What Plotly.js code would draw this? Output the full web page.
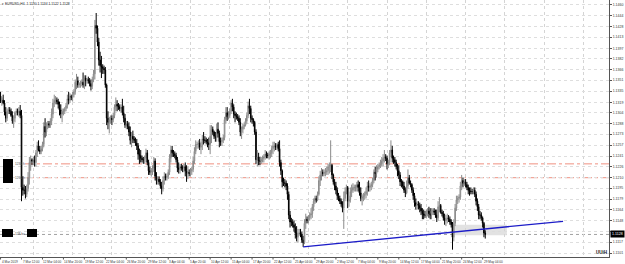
<!DOCTYPE html>
<html>
<head>
<meta charset="utf-8">
<script src="https://cdn.plot.ly/plotly-3.0.1.min.js"></script>
<style>html,body{margin:0;padding:0;background:#fff;overflow:hidden}#chart{width:625px;height:264px}</style>
</head>
<body>
<div id="chart"></div>
<script>
// EURUSD H4 candles, bar index 5 = 4 Mar 2019 20:00 (6 bars per trading day)
const symbolName = "EURUSD,H4";
const firstBar = 5;
const firstOpen = 1.1328;
const high = [
1.1334,
1.1326,1.1330,1.1322,1.1312,1.1310,1.1312,
1.1312,1.1310,1.1306,1.1300,1.1306,1.1310,
1.1310,1.1312,1.1315,1.1308,1.1212,1.1200,
1.1198,1.1200,1.1218,1.1240,1.1242,1.1238,
1.1240,1.1242,1.1250,1.1262,1.1264,1.1256,
1.1256,1.1262,1.1290,1.1296,1.1290,1.1292,
1.1292,1.1296,1.1310,1.1324,1.1330,1.1328,
1.1326,1.1324,1.1320,1.1316,1.1310,1.1310,
1.1312,1.1318,1.1330,1.1334,1.1332,1.1330,
1.1334,1.1338,1.1352,1.1360,1.1356,1.1348,
1.1350,1.1352,1.1362,1.1358,1.1358,1.1354,
1.1356,1.1354,1.1352,1.1356,1.1366,1.1438,
1.1448,1.1430,1.1412,1.1392,1.1386,1.1374,
1.1372,1.1370,1.1346,1.1306,1.1298,1.1300,
1.1300,1.1304,1.1316,1.1326,1.1322,1.1318,
1.1316,1.1316,1.1324,1.1314,1.1302,1.1292,
1.1292,1.1290,1.1284,1.1276,1.1278,1.1270,
1.1268,1.1266,1.1260,1.1252,1.1250,1.1242,
1.1240,1.1242,1.1252,1.1250,1.1236,1.1226,
1.1224,1.1228,1.1240,1.1238,1.1218,1.1212,
1.1212,1.1208,1.1204,1.1212,1.1218,1.1216,
1.1216,1.1222,1.1244,1.1256,1.1256,1.1250,
1.1248,1.1246,1.1240,1.1232,1.1230,1.1230,
1.1228,1.1230,1.1232,1.1228,1.1226,1.1222,
1.1224,1.1226,1.1240,1.1254,1.1264,1.1262,
1.1264,1.1266,1.1262,1.1272,1.1276,1.1270,
1.1268,1.1266,1.1268,1.1286,1.1286,1.1284,
1.1278,1.1276,1.1288,1.1290,1.1278,1.1268,
1.1268,1.1272,1.1298,1.1312,1.1312,1.1306,
1.1310,1.1322,1.1324,1.1316,1.1306,1.1304,
1.1302,1.1300,1.1296,1.1284,1.1288,1.1290,
1.1296,1.1304,1.1320,1.1324,1.1314,1.1300,
1.1296,1.1292,1.1280,1.1250,1.1246,1.1240,
1.1240,1.1242,1.1244,1.1250,1.1248,1.1246,
1.1248,1.1250,1.1256,1.1262,1.1262,1.1260,
1.1260,1.1262,1.1264,1.1236,1.1222,1.1210,
1.1208,1.1206,1.1202,1.1190,1.1162,1.1152,
1.1150,1.1148,1.1144,1.1140,1.1136,1.1136,
1.1136,1.1132,1.1126,1.1150,1.1158,1.1154,
1.1156,1.1160,1.1166,1.1172,1.1180,1.1184,
1.1184,1.1190,1.1212,1.1220,1.1224,1.1222,
1.1222,1.1224,1.1226,1.1230,1.1232,1.1264,
1.1230,1.1216,1.1208,1.1204,1.1196,1.1188,
1.1184,1.1180,1.1176,1.1190,1.1196,1.1200,
1.1198,1.1184,1.1196,1.1200,1.1202,1.1200,
1.1200,1.1204,1.1206,1.1204,1.1196,1.1186,
1.1188,1.1190,1.1196,1.1204,1.1206,1.1202,
1.1204,1.1210,1.1222,1.1226,1.1228,1.1230,
1.1232,1.1236,1.1240,1.1244,1.1250,1.1244,
1.1242,1.1236,1.1250,1.1264,1.1256,1.1242,
1.1240,1.1236,1.1230,1.1228,1.1218,1.1208,
1.1206,1.1204,1.1196,1.1206,1.1222,1.1214,
1.1206,1.1202,1.1196,1.1188,1.1180,1.1176,
1.1176,1.1174,1.1172,1.1166,1.1164,1.1162,
1.1164,1.1166,1.1168,1.1166,1.1166,1.1166,
1.1166,1.1164,1.1164,1.1176,1.1182,1.1172,
1.1164,1.1162,1.1158,1.1156,1.1158,1.1156,
1.1154,1.1150,1.1146,1.1150,1.1172,1.1184,
1.1184,1.1186,1.1204,1.1214,1.1210,1.1208,
1.1208,1.1204,1.1200,1.1196,1.1196,1.1194,
1.1196,1.1196,1.1190,1.1180,1.1172,1.1162,
1.1160,1.1154,1.1146,1.1134
];
const low = [
1.1318,
1.1314,1.1316,1.1300,1.1290,1.1292,1.1302,
1.1302,1.1298,1.1288,1.1282,1.1290,1.1300,
1.1300,1.1298,1.1296,1.1176,1.1184,1.1186,
1.1180,1.1182,1.1190,1.1200,1.1220,1.1228,
1.1228,1.1226,1.1226,1.1240,1.1248,1.1244,
1.1244,1.1248,1.1254,1.1268,1.1270,1.1280,
1.1282,1.1282,1.1286,1.1296,1.1312,1.1316,
1.1316,1.1310,1.1300,1.1296,1.1290,1.1300,
1.1302,1.1306,1.1310,1.1316,1.1318,1.1322,
1.1320,1.1326,1.1330,1.1338,1.1340,1.1340,
1.1340,1.1342,1.1340,1.1338,1.1342,1.1346,
1.1346,1.1342,1.1336,1.1338,1.1348,1.1352,
1.1418,1.1400,1.1372,1.1362,1.1354,1.1360,
1.1360,1.1340,1.1286,1.1280,1.1274,1.1288,
1.1286,1.1290,1.1296,1.1306,1.1306,1.1308,
1.1306,1.1304,1.1300,1.1290,1.1282,1.1280,
1.1280,1.1270,1.1258,1.1254,1.1260,1.1260,
1.1256,1.1250,1.1236,1.1230,1.1232,1.1232,
1.1230,1.1230,1.1232,1.1228,1.1214,1.1214,
1.1212,1.1214,1.1218,1.1206,1.1200,1.1200,
1.1200,1.1194,1.1186,1.1190,1.1200,1.1206,
1.1206,1.1208,1.1214,1.1232,1.1240,1.1240,
1.1238,1.1232,1.1218,1.1216,1.1216,1.1220,
1.1218,1.1218,1.1212,1.1204,1.1208,1.1212,
1.1212,1.1214,1.1218,1.1230,1.1244,1.1252,
1.1252,1.1250,1.1244,1.1250,1.1258,1.1260,
1.1258,1.1254,1.1250,1.1244,1.1260,1.1272,
1.1266,1.1262,1.1262,1.1268,1.1254,1.1256,
1.1256,1.1260,1.1264,1.1288,1.1292,1.1294,
1.1296,1.1302,1.1306,1.1296,1.1290,1.1294,
1.1292,1.1286,1.1270,1.1266,1.1274,1.1280,
1.1284,1.1288,1.1296,1.1302,1.1290,1.1288,
1.1284,1.1272,1.1230,1.1226,1.1228,1.1228,
1.1230,1.1232,1.1232,1.1236,1.1238,1.1238,
1.1236,1.1238,1.1240,1.1244,1.1248,1.1250,
1.1250,1.1248,1.1226,1.1214,1.1196,1.1198,
1.1196,1.1192,1.1178,1.1150,1.1138,1.1140,
1.1138,1.1132,1.1122,1.1118,1.1116,1.1126,
1.1124,1.1116,1.1110,1.1114,1.1136,1.1144,
1.1144,1.1148,1.1150,1.1152,1.1162,1.1172,
1.1174,1.1176,1.1184,1.1198,1.1206,1.1212,
1.1212,1.1212,1.1214,1.1214,1.1216,1.1218,
1.1208,1.1200,1.1192,1.1186,1.1178,1.1176,
1.1172,1.1168,1.1160,1.1136,1.1176,1.1186,
1.1166,1.1168,1.1174,1.1182,1.1188,1.1190,
1.1190,1.1190,1.1190,1.1184,1.1176,1.1170,
1.1176,1.1178,1.1180,1.1184,1.1190,1.1190,
1.1192,1.1196,1.1202,1.1206,1.1210,1.1218,
1.1222,1.1224,1.1226,1.1226,1.1232,1.1234,
1.1222,1.1224,1.1228,1.1240,1.1232,1.1230,
1.1226,1.1222,1.1212,1.1208,1.1198,1.1196,
1.1194,1.1188,1.1182,1.1186,1.1194,1.1200,
1.1196,1.1188,1.1178,1.1168,1.1164,1.1164,
1.1164,1.1160,1.1156,1.1150,1.1150,1.1152,
1.1152,1.1154,1.1152,1.1150,1.1150,1.1156,
1.1156,1.1152,1.1146,1.1148,1.1160,1.1158,
1.1154,1.1148,1.1142,1.1140,1.1144,1.1146,
1.1142,1.1138,1.1106,1.1118,1.1140,1.1162,
1.1172,1.1174,1.1178,1.1192,1.1196,1.1198,
1.1196,1.1192,1.1186,1.1184,1.1186,1.1186,
1.1186,1.1182,1.1170,1.1162,1.1150,1.1150,
1.1148,1.1138,1.1124,1.1122
];
const close = [
1.1320,
1.1322,1.1318,1.1305,1.1296,1.1306,1.1308,
1.1306,1.1300,1.1292,1.1296,1.1304,1.1306,
1.1304,1.1306,1.1300,1.1196,1.1192,1.1192,
1.1186,1.1194,1.1210,1.1232,1.1236,1.1234,
1.1236,1.1232,1.1246,1.1256,1.1250,1.1248,
1.1252,1.1258,1.1284,1.1276,1.1286,1.1288,
1.1286,1.1292,1.1302,1.1318,1.1322,1.1322,
1.1320,1.1316,1.1308,1.1302,1.1306,1.1306,
1.1310,1.1314,1.1324,1.1322,1.1328,1.1326,
1.1330,1.1334,1.1348,1.1350,1.1344,1.1346,
1.1346,1.1348,1.1344,1.1354,1.1350,1.1352,
1.1350,1.1346,1.1342,1.1352,1.1360,1.1430,
1.1426,1.1406,1.1380,1.1372,1.1370,1.1368,
1.1366,1.1344,1.1296,1.1290,1.1294,1.1296,
1.1294,1.1300,1.1312,1.1316,1.1314,1.1312,
1.1310,1.1312,1.1304,1.1296,1.1286,1.1288,
1.1284,1.1276,1.1264,1.1270,1.1266,1.1264,
1.1260,1.1256,1.1244,1.1242,1.1238,1.1236,
1.1236,1.1238,1.1246,1.1232,1.1220,1.1218,
1.1220,1.1224,1.1234,1.1212,1.1206,1.1208,
1.1204,1.1198,1.1194,1.1206,1.1212,1.1210,
1.1212,1.1218,1.1238,1.1250,1.1246,1.1244,
1.1242,1.1236,1.1224,1.1222,1.1226,1.1224,
1.1224,1.1226,1.1220,1.1216,1.1218,1.1216,
1.1220,1.1222,1.1234,1.1248,1.1258,1.1258,
1.1260,1.1254,1.1256,1.1266,1.1264,1.1264,
1.1262,1.1260,1.1258,1.1270,1.1280,1.1276,
1.1270,1.1268,1.1280,1.1274,1.1262,1.1262,
1.1264,1.1268,1.1294,1.1304,1.1298,1.1300,
1.1306,1.1318,1.1312,1.1302,1.1300,1.1298,
1.1296,1.1290,1.1276,1.1280,1.1284,1.1286,
1.1292,1.1300,1.1314,1.1310,1.1296,1.1294,
1.1290,1.1276,1.1236,1.1240,1.1234,1.1234,
1.1236,1.1238,1.1240,1.1244,1.1242,1.1242,
1.1244,1.1246,1.1252,1.1256,1.1256,1.1254,
1.1258,1.1252,1.1232,1.1220,1.1204,1.1202,
1.1202,1.1198,1.1186,1.1156,1.1146,1.1146,
1.1142,1.1138,1.1130,1.1124,1.1130,1.1130,
1.1128,1.1120,1.1116,1.1144,1.1150,1.1148,
1.1152,1.1156,1.1158,1.1168,1.1176,1.1180,
1.1178,1.1186,1.1206,1.1214,1.1218,1.1216,
1.1218,1.1218,1.1220,1.1226,1.1228,1.1228,
1.1214,1.1204,1.1198,1.1192,1.1184,1.1180,
1.1176,1.1172,1.1166,1.1180,1.1190,1.1196,
1.1176,1.1178,1.1190,1.1192,1.1196,1.1196,
1.1196,1.1200,1.1196,1.1188,1.1180,1.1182,
1.1184,1.1186,1.1190,1.1198,1.1196,1.1198,
1.1200,1.1206,1.1218,1.1216,1.1222,1.1226,
1.1228,1.1230,1.1234,1.1238,1.1240,1.1238,
1.1230,1.1232,1.1246,1.1250,1.1238,1.1236,
1.1232,1.1226,1.1220,1.1214,1.1204,1.1204,
1.1198,1.1192,1.1188,1.1198,1.1210,1.1202,
1.1200,1.1192,1.1184,1.1174,1.1170,1.1172,
1.1170,1.1166,1.1162,1.1158,1.1156,1.1156,
1.1160,1.1162,1.1158,1.1156,1.1162,1.1162,
1.1160,1.1156,1.1152,1.1168,1.1170,1.1160,
1.1158,1.1152,1.1148,1.1150,1.1152,1.1150,
1.1146,1.1142,1.1124,1.1144,1.1166,1.1178,
1.1180,1.1182,1.1198,1.1206,1.1202,1.1204,
1.1200,1.1196,1.1192,1.1190,1.1190,1.1190,
1.1192,1.1186,1.1176,1.1168,1.1156,1.1156,
1.1152,1.1144,1.1130,1.1128
];

// time-axis labels (bar index where each label sits)
const dateBars = [5,21,37,53,69,85,101,117,133,149,165,181,197,213,229,245,261,277,293,309,325,341,357,373];
const dateLabels = ["4 Mar 2019","7 Mar 12:00","12 Mar 04:00","14 Mar 20:00","19 Mar 12:00","22 Mar 04:00","26 Mar 20:00","29 Mar 12:00","3 Apr 04:00","5 Apr 20:00","10 Apr 12:00","15 Apr 04:00","17 Apr 20:00","22 Apr 12:00","25 Apr 04:00","29 Apr 20:00","2 May 12:00","7 May 04:00","9 May 20:00","14 May 12:00","17 May 04:00","21 May 20:00","24 May 12:00","29 May 04:00"];
const mondayBars = [30,60,90,120,150,180,210,240,270,300,330,360,390,420,450];
// price-axis labels
const priceTicks = [1.1460,1.1444,1.1428,1.1413,1.1397,1.1382,1.1366,1.1351,1.1335,1.1319,1.1304,1.1288,1.1273,1.1257,1.1241,1.1226,1.1210,1.1195,1.1179,1.1164,1.1148,1.1132,1.1117,1.1101];
// drawn objects
const levelPrices = [1.1230, 1.1210];
const levelTags = ["1230 h", "1210 h"];
const trendBars = [236, 434.4];
const trendPrices = [1.1110, 1.1147];
const boxBars = [350.5, 391.5];
const boxPrices = [1.1127, 1.1142];

const n = close.length;
const bars = close.map((_, k) => firstBar + k);
const open = close.map((_, k) => k === 0 ? firstOpen : close[k - 1]);
const last = n - 1;
const lastClose = close[last];

const FONT = "Liberation Sans, Arial, sans-serif";
const W = 609, H = 257; // plot area px
const yRange = [1.10954, 1.14668];
const pxPerPrice = H / (yRange[1] - yRange[0]);

const traces = [
  {
    type: "candlestick", x: bars, open: open, high: high, low: low, close: close,
    increasing: {line: {color: "#8a8a8a", width: 1}, fillcolor: "#ffffff"},
    decreasing: {line: {color: "#000000", width: 1}, fillcolor: "#000000"},
    whiskerwidth: 0, hoverinfo: "skip", showlegend: false
  },
  {
    type: "scatter", mode: "lines", x: trendBars, y: trendPrices,
    line: {color: "#1c1cc8", width: 1.3}, hoverinfo: "skip", showlegend: false
  }
];

const shapes = [];
shapes.push({type: "rect", xref: "x", yref: "y", x0: boxBars[0], x1: boxBars[1], y0: boxPrices[0], y1: boxPrices[1],
  fillcolor: "#e2e2e2", line: {width: 0}, layer: "below"});
levelPrices.forEach(p => shapes.push({type: "line", xref: "paper", yref: "y", x0: 25 / W, x1: 1, y0: p, y1: p,
  line: {color: "#f09080", width: 1, dash: "dashdot"}, layer: "below"}));
shapes.push({type: "line", xref: "paper", yref: "y", x0: 0, x1: 1, y0: lastClose, y1: lastClose,
  line: {color: "#a0a0a0", width: 1, dash: "dot"}, layer: "below"});
dateBars.forEach(b => shapes.push({type: "line", xref: "x", yref: "paper", x0: b, x1: b, y0: 0, y1: -2.5 / H,
  line: {color: "#555", width: 1}}));
const px = (x) => x / W, py = (y) => 1 - y / H;
[[3, 159, 13, 183], [2, 229, 13, 237], [27, 229, 37, 237]].forEach(r => shapes.push({
  type: "rect", xref: "paper", yref: "paper", x0: px(r[0]), x1: px(r[2]), y0: py(r[3]), y1: py(r[1]),
  fillcolor: "#000", line: {width: 0}}));

const annotations = [];
dateBars.forEach((b, k) => annotations.push({
  x: b, xref: "x", y: 0, yref: "paper", xanchor: "left", yanchor: "top", yshift: -1.5, showarrow: false,
  text: dateLabels[k], font: {family: FONT, size: 3.1, color: "#333"}, borderpad: 0}));
levelPrices.forEach((p, k) => annotations.push({
  x: px(13.5), xref: "paper", y: p, yref: "y", xanchor: "left", yanchor: "middle", showarrow: false,
  text: levelTags[k], font: {family: FONT, size: 3.2, color: "#555"}, borderpad: 0}));
annotations.push({x: px(13.5), xref: "paper", y: lastClose, yref: "y", xanchor: "left", yanchor: "middle", showarrow: false,
  text: lastClose.toFixed(4).slice(3) + " bu", font: {family: FONT, size: 3.2, color: "#555"}, borderpad: 0});
annotations.push({x: 0, xref: "paper", y: 1, yref: "paper", xanchor: "left", yanchor: "top", xshift: 1, yshift: -1, showarrow: false,
  text: "\u25BE " + symbolName + "  " + [open[last], high[last], low[last], close[last]].map(v => v.toFixed(4)).join(" "),
  font: {family: FONT, size: 3.4, color: "#222"}, borderpad: 0});
annotations.push({x: 1, xref: "paper", y: lastClose, yref: "y", xanchor: "left", yanchor: "middle", xshift: 1, showarrow: false,
  text: lastClose.toFixed(4), bgcolor: "#000", font: {family: FONT, size: 3.6, color: "#fff"}, borderpad: 1});
annotations.push({x: 1, xref: "paper", y: 0, yref: "paper", xanchor: "right", yanchor: "bottom", xshift: -1, yshift: 1, showarrow: false,
  text: "<b>UUiH</b>", font: {family: FONT, size: 4.5, color: "#111"}, borderpad: 0});

// hide the scale label that sits under the current-price box (as the terminal does)
const tickText = priceTicks.map(v => Math.abs(v - lastClose) * pxPerPrice < 6 ? "" : v.toFixed(4));

const layout = {
  width: 625, height: 264, autosize: false,
  margin: {l: 0, r: 16, t: 0, b: 7, pad: 0},
  paper_bgcolor: "#ffffff", plot_bgcolor: "#ffffff",
  showlegend: false,
  xaxis: {
    range: [4.58, 469.47], tickvals: mondayBars, showticklabels: false, ticks: "",
    showgrid: true, gridcolor: "#d4d4d4", griddash: "dot", gridwidth: 1,
    showline: true, linecolor: "#555", linewidth: 1, zeroline: false,
    rangeslider: {visible: false}, fixedrange: true
  },
  yaxis: {
    side: "right", range: yRange, tickvals: priceTicks, ticktext: tickText,
    tickfont: {family: FONT, size: 3.5, color: "#333"}, ticks: "outside", ticklen: 2, tickcolor: "#555",
    showgrid: true, gridcolor: "#dedede", griddash: "dot", gridwidth: 1,
    showline: true, linecolor: "#555", linewidth: 1, zeroline: false, fixedrange: true
  },
  shapes: shapes,
  annotations: annotations
};

Plotly.newPlot("chart", traces, layout, {staticPlot: true, displayModeBar: false});
</script>
</body>
</html>
